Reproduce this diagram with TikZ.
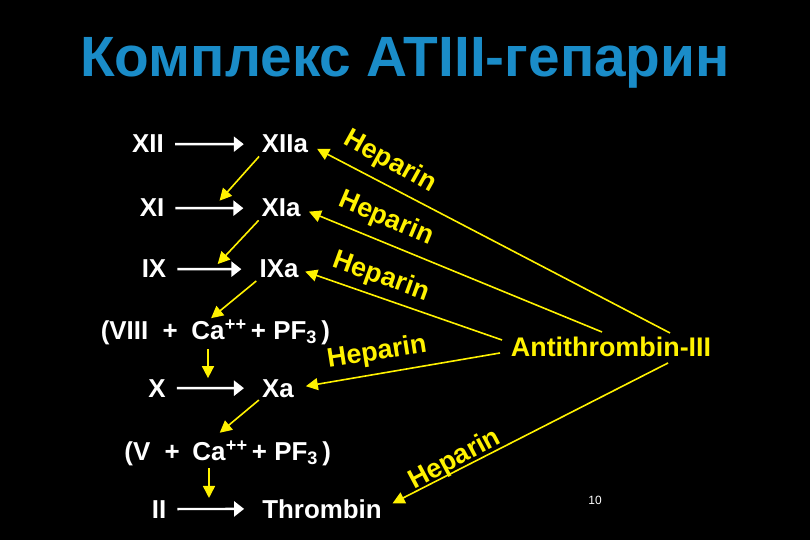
\documentclass[tikz,border=0pt]{standalone}
\usepackage{fontspec}
\setmainfont{Liberation Sans}
\usetikzlibrary{arrows.meta,positioning}

\definecolor{titleblue}{RGB}{26,140,200}

\tikzset{
  factor/.style={text=white,font=\fontsize{26}{28}\selectfont\bfseries,inner sep=0pt,anchor=base},
  react/.style={draw=white,line width=2.4bp,-{Triangle[length=10bp,width=15bp]},shorten <=11bp,shorten >=18bp},
  cascade/.style={draw=yellow,line width=1.6bp,-{Triangle[length=12bp,width=12bp]}},
  hep/.style={text=yellow,font=\fontsize{27}{28}\selectfont\bfseries,inner sep=0pt},
}

\begin{document}
\begin{tikzpicture}[x=1bp,y=-1bp]

	\fill[black] (0,0) rectangle (810,540);

	\node[text=titleblue,font=\fontsize{57}{60}\selectfont\bfseries] (title) at (405,63) {Комплекс ATIII-гепарин};

	% factors
	\node[factor] (XII) at (148,153) {XII};
	\node[factor] (XIIa) at (285,153) {XIIa};
	\node[factor] (XI) at (152,217) {XI};
	\node[factor] (XIa) at (281,217) {XIa};
	\node[factor] (IX) at (154,278) {IX};
	\node[factor] (IXa) at (279,278) {IXa};

	\node[factor] (ca1) at (208,339) {Ca};
	\node[factor,anchor=base east] (viii) at (178,339) {(VIII\ \ +};
	\node[factor,anchor=base west] (pf1) at (ca1.base east) {\textsuperscript{++}\,+ PF\textsubscript{3}\,)};

	\node[factor] (X) at (157,397) {X};
	\node[factor] (Xa) at (278,397) {Xa};

	\node[factor] (ca2) at (209,460) {Ca};
	\node[factor,anchor=base east] (v) at (180,460) {(V\ \ +};
	\node[factor,anchor=base west] (pf2) at (ca2.base east) {\textsuperscript{++}\,+ PF\textsubscript{3}\,)};

	\node[factor] (II) at (159,518) {II};
	\node[factor] (thr) at (322,518) {Thrombin};

	\node[factor,text=yellow,font=\fontsize{27}{28}\selectfont\bfseries] (at) at (611,356) {Antithrombin-III};

	\node[text=white,font=\fontsize{12}{14}\selectfont] (page) at (595,500) {10};

	% activation steps
	\draw[react] (XII) -- (XIIa);
	\draw[react] (XI) -- coordinate[midway] (m1) (XIa);
	\draw[react] (IX) -- coordinate[midway] (m2) (IXa);
	\draw[react] (X) -- coordinate[midway] (m3) (Xa);
	\draw[react] (II) -- coordinate[midway] (m4) (thr);

	\draw[cascade,shorten <=4bp,shorten >=10bp] (XIIa.south west) -- (m1);
	\draw[cascade,shorten <=4bp,shorten >=7bp] (XIa.south west) -- (m2);
	\draw[cascade,shorten <=4bp,shorten >=4bp] (IXa.south west) -- (ca1.north);
	\draw[cascade,shorten <=10bp,shorten >=10bp] (ca1.south) -- (ca1.south |- m3);
	\draw[cascade,shorten <=4bp,shorten >=14bp] (Xa.south west) -- (ca2.north);
	\draw[cascade,shorten <=8bp,shorten >=11bp] (ca2.south) -- (ca2.south |- m4);

	% heparin
	\coordinate (at1) at (670,333);
	\coordinate (at2) at (602,332);
	\coordinate (at3) at (502,340);
	\coordinate (at4) at (500,353);
	\coordinate (at5) at (668,363);

	\draw[cascade,shorten >=10bp] (at1) -- (XIIa.east);
	\draw[cascade,shorten >=9bp] (at2) -- (XIa.east);
	\draw[cascade,shorten >=7bp] (at3) -- (IXa.east);
	\draw[cascade,shorten >=12bp] (at4) -- (Xa.east);
	\draw[cascade,shorten >=12bp] (at5) -- (thr.east);

	\node[hep,rotate=-29] (hep1) at (390,162) {Heparin};
	\node[hep,rotate=-23] (hep2) at (386,219) {Heparin};
	\node[hep,rotate=-20] (hep3) at (381,277) {Heparin};
	\node[hep,rotate=9] (hep4) at (377,353) {Heparin};
	\node[hep,rotate=28] (hep5) at (455,460) {Heparin};

\end{tikzpicture}
\end{document}
